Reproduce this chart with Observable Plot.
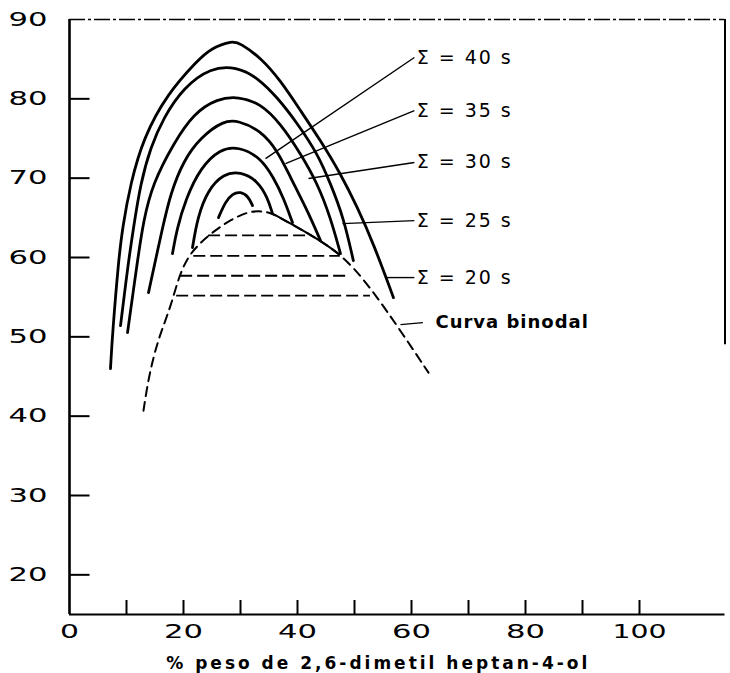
<!DOCTYPE html>
<html>
<head>
<meta charset="utf-8">
<script src="https://cdn.jsdelivr.net/npm/d3@7"></script>
<script src="https://cdn.jsdelivr.net/npm/@observablehq/plot@0.6"></script>
<style>
  html, body { margin: 0; padding: 0; background: #fff; }
  svg { display: block; }
</style>
</head>
<body>
<div id="chart"></div>
<script>
// ---- axis data ----
const xTicks = [10, 20, 30, 40, 50, 60, 70, 80, 90, 100];
const xTickLabels = [0, 20, 40, 60, 80, 100];
const yTicks = [20, 30, 40, 50, 60, 70, 80];
const yTickLabels = [20, 30, 40, 50, 60, 70, 80, 90];
const xDomain = [0, 115];
const yDomain = [15, 90];
const rightBorder = [49, 90];
const xLabel = "% peso de 2,6-dimetil heptan-4-ol";

// ---- iso-time curves ----
const sigma20 = [[7.19,45.99],[7.54,50.4],[8.6,59.61],[9.3,63.77],[10.7,69.32],[12.98,75.12],[17.19,80.67],[22.46,84.83],[24.74,86.34],[28.6,87.35],[30.0,86.97],[33.51,85.21],[37.02,82.31],[40.53,78.52],[44.04,74.74],[47.54,70.58],[50.53,66.29],[53.33,61.75],[56.84,54.94]];
const sigma25 = [[8.95,51.41],[10.3,59.3],[11.23,63.77],[12.46,69.32],[14.21,73.86],[16.49,77.64],[20.0,81.42],[24.74,83.95],[29.3,84.07],[32.98,82.69],[36.49,80.16],[40.0,76.89],[43.51,73.1],[45.8,69.3],[48.1,65.0],[49.8,59.6]];
const sigma30 = [[10.18,50.53],[11.93,59.61],[12.98,64.65],[14.6,69.32],[18.25,74.36],[21.75,78.15],[25.96,80.04],[29.65,80.29],[33.51,79.41],[37.02,76.89],[40.53,73.1],[43.51,69.32],[45.79,65.03],[47.54,60.49]];
const sigma35 = [[13.86,55.57],[16.32,63.77],[17.72,68.06],[20.0,72.22],[22.98,75.12],[27.02,77.26],[29.65,77.26],[33.51,76.0],[36.49,73.48],[38.77,70.08],[41.75,65.91],[44.04,62.13]];
const sigma40 = [[18.07,60.49],[18.8,63.5],[20.4,67.4],[22.98,71.34],[26.49,73.73],[29.65,73.98],[33.51,72.6],[35.79,70.08],[37.54,67.55],[39.12,64.4]];
const innerCurve1 = [[21.58,61.25],[22.46,65.03],[24.21,68.44],[27.02,70.58],[30.0,70.83],[32.98,69.7],[34.74,67.55],[35.61,65.54]];
const innerCurve2 = [[26.14,65.03],[27.37,67.05],[28.6,68.06],[30.0,68.31],[31.4,67.68],[32.11,66.54]];

// ---- binodal curve ----
const binodal = [[12.98,40.69],[13.86,44.85],[15.44,49.52],[17.72,53.68],[19.12,57.47],[20.7,59.99],[22.46,61.5],[24.74,63.01],[28.25,64.78],[31.75,65.91],[34.39,65.79],[35.61,65.54],[39.12,64.15],[44.04,62.13],[47.19,60.49],[49.82,58.73],[53.16,55.83],[58.07,50.78],[62.98,45.49]];
const binodalSolidRange = [35.6, 47.2];

// ---- tie lines ----
const tieY  = [62.8, 60.2, 57.7, 55.2];
const tieX1 = [24.4, 21.8, 19.5, 18.8];
const tieX2 = [42.5, 47.5, 49.3, 52.8];

// ---- labels & leader lines ----
const labelTexts = ["Σ = 40 s", "Σ = 35 s", "Σ = 30 s", "Σ = 25 s", "Σ = 20 s", "Curva binodal"];
const labelX = [60.9, 60.9, 60.9, 60.9, 60.9, 64.2];
const labelY = [85.2, 78.5, 72.0, 64.65, 57.47, 51.8];
const leaderFromX = [34.39, 37.89, 41.93, 47.89, 55.44, 58.07];
const leaderFromY = [72.47, 71.84, 69.95, 64.27, 57.47, 51.54];
const leaderToX   = [60.5, 60.5, 60.5, 60.5, 60.5, 62.0];
const leaderToY   = [85.21, 78.52, 71.97, 64.65, 57.47, 51.79];

// ---- build tables ----
const curves = [sigma20, sigma25, sigma30, sigma35, sigma40, innerCurve1, innerCurve2];
const curveRows = curves.flatMap((pts, i) => pts.map(([x, y]) => ({x, y, curve: i})));
const binodalRows = binodal.map(([x, y]) => ({x, y}));
const binodalSolid = binodalRows.filter(d => d.x >= binodalSolidRange[0] && d.x <= binodalSolidRange[1]);
const ties = tieY.map((y, i) => ({y, x1: tieX1[i], x2: tieX2[i]}));
const leaders = leaderFromX.map((x, i) => ({x1: x, y1: leaderFromY[i], x2: leaderToX[i], y2: leaderToY[i]}));
const labels = labelTexts.map((t, i) => ({text: t, x: labelX[i], y: labelY[i], bold: t === "Curva binodal"}));

const chart = Plot.plot({
  width: 730,
  height: 673,
  marginLeft: 69,
  marginRight: 5.5,
  marginTop: 19,
  marginBottom: 59,
  style: {fontFamily: "'DejaVu Sans', sans-serif", fontSize: "19px", color: "black", background: "white", overflow: "visible"},
  x: {domain: xDomain, ticks: xTickLabels, tickSize: 0, tickPadding: 10, tickFormat: d => String(d), label: null},
  y: {domain: yDomain, ticks: yTickLabels, tickSize: 0, tickPadding: 22, tickFormat: d => String(d), label: null},
  marks: [
    // frame
    Plot.ruleY([yDomain[1]], {stroke: "black", strokeWidth: 1.4, strokeDasharray: "16,3,3,3"}),
    Plot.ruleX([xDomain[1]], {y1: rightBorder[0], y2: rightBorder[1], stroke: "black", strokeWidth: 2}),
    Plot.ruleX([xDomain[0]], {stroke: "black", strokeWidth: 2.6}),
    Plot.ruleY([yDomain[0]], {stroke: "black", strokeWidth: 2}),
    Plot.tickY(yTicks, {y: d => d, insetRight: 635, stroke: "black", strokeWidth: 2}),
    Plot.tickX(xTicks, {x: d => d, insetTop: 581, stroke: "black", strokeWidth: 2}),
    // tie lines
    Plot.ruleY(ties, {y: "y", x1: "x1", x2: "x2", stroke: "black", strokeWidth: 1.8, strokeDasharray: "12,5"}),
    // binodal
    Plot.line(binodalRows, {x: "x", y: "y", curve: "basis", stroke: "black", strokeWidth: 2, strokeDasharray: "9,6"}),
    Plot.line(binodalSolid, {x: "x", y: "y", curve: "basis", stroke: "black", strokeWidth: 2}),
    // iso curves
    Plot.line(curveRows, {x: "x", y: "y", z: "curve", curve: "basis", stroke: "black", strokeWidth: 2.8, strokeLinecap: "round"}),
    // leaders
    Plot.link(leaders, {x1: "x1", y1: "y1", x2: "x2", y2: "y2", stroke: "black", strokeWidth: 1.4}),
    // labels
    Plot.text(labels.filter(d => !d.bold), {x: "x", y: "y", text: "text", textAnchor: "start", lineAnchor: "middle", fontSize: 19, fill: "black"}),
    Plot.text(labels.filter(d => d.bold), {x: "x", y: "y", text: "text", textAnchor: "start", lineAnchor: "middle", fontSize: 18, fontWeight: "bold", fill: "black"}),
    // x axis title
    Plot.text([xLabel], {text: d => d, frameAnchor: "bottom", dx: -19, dy: 49, lineAnchor: "middle", fontSize: 17, fontWeight: "bold", fill: "black"})
  ]
});

document.getElementById("chart").appendChild(chart);

// widen lettering to mimic the extended type of the original
const digitWidths = {1: 19, 2: 39, 3: 54};
chart.querySelectorAll("text").forEach(t => {
  const s = t.textContent.trim();
  if (/^\d+$/.test(s)) {
    t.setAttribute("textLength", digitWidths[s.length]);
    t.setAttribute("lengthAdjust", "spacingAndGlyphs");
  }
  else if (s.startsWith("Σ")) { t.style.letterSpacing = "2px"; }
  else if (s === "Curva binodal") { t.style.letterSpacing = "1px"; }
  else if (s === xLabel) { t.style.letterSpacing = "3px"; }
});
</script>
</body>
</html>
